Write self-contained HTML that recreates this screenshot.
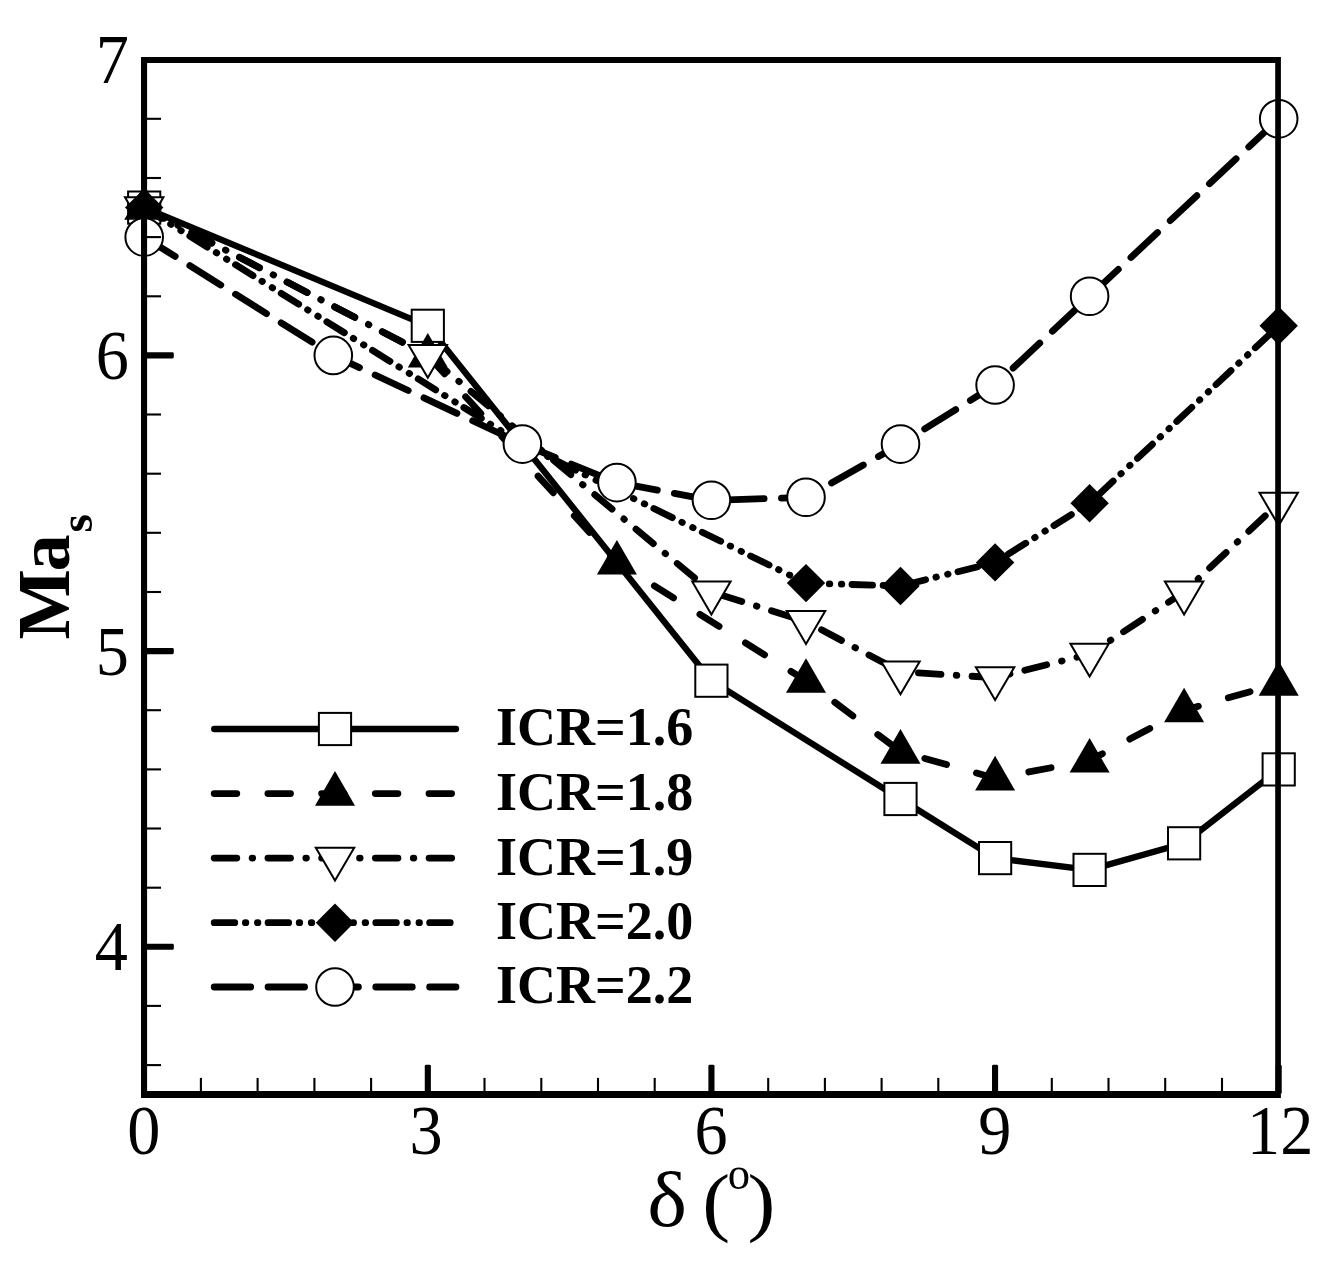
<!DOCTYPE html>
<html lang="en"><head><meta charset="utf-8"><title>Ma_s vs delta</title>
<style>html,body{margin:0;padding:0;background:#fff}svg{display:block}</style></head>
<body>
<svg width="1344" height="1268" viewBox="0 0 1344 1268">
<rect width="1344" height="1268" fill="#fff"/>
<polyline points="144.2,207.6 427.8,325.8 711.4,680.7 900.5,799.0 995.1,858.1 1089.6,869.9 1184.1,843.3 1278.7,769.4" fill="none" stroke="#000" stroke-width="6.3" stroke-linecap="round" stroke-linejoin="round"/>
<rect x="128.1" y="191.5" width="32.2" height="32.2" fill="#fff" stroke="#000" stroke-width="2.0"/>
<rect x="411.7" y="309.7" width="32.2" height="32.2" fill="#fff" stroke="#000" stroke-width="2.0"/>
<rect x="695.3" y="664.6" width="32.2" height="32.2" fill="#fff" stroke="#000" stroke-width="2.0"/>
<rect x="884.4" y="782.9" width="32.2" height="32.2" fill="#fff" stroke="#000" stroke-width="2.0"/>
<rect x="979.0" y="842.0" width="32.2" height="32.2" fill="#fff" stroke="#000" stroke-width="2.0"/>
<rect x="1073.5" y="853.8" width="32.2" height="32.2" fill="#fff" stroke="#000" stroke-width="2.0"/>
<rect x="1168.0" y="827.2" width="32.2" height="32.2" fill="#fff" stroke="#000" stroke-width="2.0"/>
<rect x="1262.6" y="753.3" width="32.2" height="32.2" fill="#fff" stroke="#000" stroke-width="2.0"/>
<polyline points="144.2,207.6 427.8,355.4 616.9,562.4 806.0,680.7 900.5,751.6 995.1,778.3 1089.6,760.5 1184.1,710.2 1278.7,683.6" fill="none" stroke="#000" stroke-width="6.8" stroke-linecap="round" stroke-linejoin="round" stroke-dasharray="22.6 31.1"/>
<polygon points="144.2,185.1 164.2,219.7 124.2,219.7" fill="#000"/>
<polygon points="427.8,332.9 447.8,367.5 407.8,367.5" fill="#000"/>
<polygon points="616.9,539.9 636.9,574.5 596.9,574.5" fill="#000"/>
<polygon points="806.0,658.2 826.0,692.8 786.0,692.8" fill="#000"/>
<polygon points="900.5,729.1 920.5,763.7 880.5,763.7" fill="#000"/>
<polygon points="995.1,755.8 1015.1,790.4 975.1,790.4" fill="#000"/>
<polygon points="1089.6,738.0 1109.6,772.6 1069.6,772.6" fill="#000"/>
<polygon points="1184.1,687.7 1204.1,722.3 1164.1,722.3" fill="#000"/>
<polygon points="1278.7,661.1 1298.7,695.7 1258.7,695.7" fill="#000"/>
<polyline points="144.2,207.6 427.8,355.4 711.4,592.0 806.0,621.5 900.5,671.8 995.1,677.7 1089.6,654.1 1184.1,592.0 1278.7,503.2" fill="none" stroke="#000" stroke-width="6.8" stroke-linecap="round" stroke-linejoin="round" stroke-dasharray="22.6 15.3 0.6 15.22"/>
<polygon points="144.2,230.0 163.4,197.2 125.0,197.2" fill="#fff" stroke="#000" stroke-width="2.0"/>
<polygon points="427.8,377.8 447.0,345.0 408.6,345.0" fill="#fff" stroke="#000" stroke-width="2.0"/>
<polygon points="711.4,614.4 730.6,581.6 692.2,581.6" fill="#fff" stroke="#000" stroke-width="2.0"/>
<polygon points="806.0,643.9 825.2,611.1 786.8,611.1" fill="#fff" stroke="#000" stroke-width="2.0"/>
<polygon points="900.5,694.2 919.7,661.4 881.3,661.4" fill="#fff" stroke="#000" stroke-width="2.0"/>
<polygon points="995.1,700.1 1014.3,667.3 975.9,667.3" fill="#fff" stroke="#000" stroke-width="2.0"/>
<polygon points="1089.6,676.5 1108.8,643.7 1070.4,643.7" fill="#fff" stroke="#000" stroke-width="2.0"/>
<polygon points="1184.1,614.4 1203.3,581.6 1164.9,581.6" fill="#fff" stroke="#000" stroke-width="2.0"/>
<polygon points="1278.7,525.6 1297.9,492.8 1259.5,492.8" fill="#fff" stroke="#000" stroke-width="2.0"/>
<polyline points="144.2,207.6 522.4,444.1 806.0,583.1 900.5,586.0 995.1,562.4 1089.6,503.2 1278.7,325.8" fill="none" stroke="#000" stroke-width="6.8" stroke-linecap="round" stroke-linejoin="round" stroke-dasharray="20.6 10.55 0.5 11.55 0.5 10.16"/>
<polygon points="125.0,207.6 144.2,188.4 163.4,207.6 144.2,226.8" fill="#000"/>
<polygon points="503.2,444.1 522.4,424.9 541.6,444.1 522.4,463.3" fill="#000"/>
<polygon points="786.8,583.1 806.0,563.9 825.2,583.1 806.0,602.3" fill="#000"/>
<polygon points="881.3,586.0 900.5,566.8 919.7,586.0 900.5,605.2" fill="#000"/>
<polygon points="975.9,562.4 995.1,543.2 1014.3,562.4 995.1,581.6" fill="#000"/>
<polygon points="1070.4,503.2 1089.6,484.0 1108.8,503.2 1089.6,522.4" fill="#000"/>
<polygon points="1259.5,325.8 1278.7,306.6 1297.9,325.8 1278.7,345.0" fill="#000"/>
<polyline points="144.2,237.1 333.3,355.4 522.4,444.1 616.9,482.6 711.4,500.3 806.0,497.3 900.5,444.1 995.1,385.0 1089.6,296.3 1278.7,118.8" fill="none" stroke="#000" stroke-width="6.8" stroke-linecap="round" stroke-linejoin="round" stroke-dasharray="36.5 17.36"/>
<circle cx="144.2" cy="237.1" r="18.8" fill="#fff" stroke="#000" stroke-width="2.0"/>
<circle cx="333.3" cy="355.4" r="18.8" fill="#fff" stroke="#000" stroke-width="2.0"/>
<circle cx="522.4" cy="444.1" r="18.8" fill="#fff" stroke="#000" stroke-width="2.0"/>
<circle cx="616.9" cy="482.6" r="18.8" fill="#fff" stroke="#000" stroke-width="2.0"/>
<circle cx="711.4" cy="500.3" r="18.8" fill="#fff" stroke="#000" stroke-width="2.0"/>
<circle cx="806.0" cy="497.3" r="18.8" fill="#fff" stroke="#000" stroke-width="2.0"/>
<circle cx="900.5" cy="444.1" r="18.8" fill="#fff" stroke="#000" stroke-width="2.0"/>
<circle cx="995.1" cy="385.0" r="18.8" fill="#fff" stroke="#000" stroke-width="2.0"/>
<circle cx="1089.6" cy="296.3" r="18.8" fill="#fff" stroke="#000" stroke-width="2.0"/>
<circle cx="1278.7" cy="118.8" r="18.8" fill="#fff" stroke="#000" stroke-width="2.0"/>
<g stroke="#000" fill="#000"><line x1="144" y1="1065.1" x2="161" y2="1065.1" stroke-width="2.1"/><line x1="144" y1="1005.9" x2="161" y2="1005.9" stroke-width="2.1"/><rect x="144" y="943.75" width="29.8" height="6.1" rx="1.4" stroke="none"/><line x1="144" y1="887.7" x2="161" y2="887.7" stroke-width="2.1"/><line x1="144" y1="828.5" x2="161" y2="828.5" stroke-width="2.1"/><line x1="144" y1="769.4" x2="161" y2="769.4" stroke-width="2.1"/><line x1="144" y1="710.2" x2="161" y2="710.2" stroke-width="2.1"/><rect x="144" y="648.05" width="29.8" height="6.1" rx="1.4" stroke="none"/><line x1="144" y1="592.0" x2="161" y2="592.0" stroke-width="2.1"/><line x1="144" y1="532.8" x2="161" y2="532.8" stroke-width="2.1"/><line x1="144" y1="473.7" x2="161" y2="473.7" stroke-width="2.1"/><line x1="144" y1="414.5" x2="161" y2="414.5" stroke-width="2.1"/><rect x="144" y="352.35" width="29.8" height="6.1" rx="1.4" stroke="none"/><line x1="144" y1="296.3" x2="161" y2="296.3" stroke-width="2.1"/><line x1="144" y1="237.1" x2="161" y2="237.1" stroke-width="2.1"/><line x1="144" y1="178.0" x2="161" y2="178.0" stroke-width="2.1"/><line x1="144" y1="118.8" x2="161" y2="118.8" stroke-width="2.1"/><line x1="200.9" y1="1094" x2="200.9" y2="1077.9" stroke-width="2.1"/><line x1="257.6" y1="1094" x2="257.6" y2="1077.9" stroke-width="2.1"/><line x1="314.4" y1="1094" x2="314.4" y2="1077.9" stroke-width="2.1"/><line x1="371.1" y1="1094" x2="371.1" y2="1077.9" stroke-width="2.1"/><rect x="424.77" y="1064.8" width="6.1" height="29.2" rx="1.4" stroke="none"/><line x1="484.5" y1="1094" x2="484.5" y2="1077.9" stroke-width="2.1"/><line x1="541.3" y1="1094" x2="541.3" y2="1077.9" stroke-width="2.1"/><line x1="598.0" y1="1094" x2="598.0" y2="1077.9" stroke-width="2.1"/><line x1="654.7" y1="1094" x2="654.7" y2="1077.9" stroke-width="2.1"/><rect x="708.39" y="1064.8" width="6.1" height="29.2" rx="1.4" stroke="none"/><line x1="768.2" y1="1094" x2="768.2" y2="1077.9" stroke-width="2.1"/><line x1="824.9" y1="1094" x2="824.9" y2="1077.9" stroke-width="2.1"/><line x1="881.6" y1="1094" x2="881.6" y2="1077.9" stroke-width="2.1"/><line x1="938.3" y1="1094" x2="938.3" y2="1077.9" stroke-width="2.1"/><rect x="992.01" y="1064.8" width="6.1" height="29.2" rx="1.4" stroke="none"/><line x1="1051.8" y1="1094" x2="1051.8" y2="1077.9" stroke-width="2.1"/><line x1="1108.5" y1="1094" x2="1108.5" y2="1077.9" stroke-width="2.1"/><line x1="1165.2" y1="1094" x2="1165.2" y2="1077.9" stroke-width="2.1"/><line x1="1222.0" y1="1094" x2="1222.0" y2="1077.9" stroke-width="2.1"/><rect x="1275.63" y="1064.8" width="6.1" height="29.2" rx="1.4" stroke="none"/></g>
<path fill="#000" fill-rule="evenodd" d="M141 57.1H1280.9V1097.9H141Z M147.1 63.1V1091H1275.2V63.1Z"/>
<g font-family="'Liberation Serif', serif" fill="#000">
<text transform="translate(128.0,970.4) scale(0.94,1)" text-anchor="end" font-size="70.5">4</text>
<text transform="translate(129.0,674.7) scale(0.94,1)" text-anchor="end" font-size="70.5">5</text>
<text transform="translate(129.0,379.0) scale(0.94,1)" text-anchor="end" font-size="70.5">6</text>
<text transform="translate(129.0,83.3) scale(0.94,1)" text-anchor="end" font-size="70.5">7</text>
<text transform="translate(143.9,1154.0) scale(0.94,1)" text-anchor="middle" font-size="70.5">0</text>
<text transform="translate(426.1,1154.0) scale(0.94,1)" text-anchor="middle" font-size="70.5">3</text>
<text transform="translate(711.1,1154.0) scale(0.94,1)" text-anchor="middle" font-size="70.5">6</text>
<text transform="translate(994.8,1154.0) scale(0.94,1)" text-anchor="middle" font-size="70.5">9</text>
<text transform="translate(1280.2,1154.0) scale(0.94,1)" text-anchor="middle" font-size="70.5">12</text>
<text transform="translate(667.2,1225.9) scale(1.08,1)" text-anchor="middle" font-size="78">δ</text>
<text transform="translate(716.2,1226.5) scale(1.1,1)" text-anchor="middle" font-size="76">(</text>
<text transform="translate(739.0,1188.8) scale(0.97,1)" text-anchor="middle" font-size="46">o</text>
<text transform="translate(761.4,1226.5) scale(1.1,1)" text-anchor="middle" font-size="76">)</text>
</g>
<text transform="translate(69,639.6) rotate(-90)" font-family="'Liberation Serif', serif" font-weight="bold" font-size="74.5" fill="#000">M<tspan dx="-2.2">a</tspan><tspan font-size="47" dx="1.8" dy="22.8">s</tspan></text>
<line x1="214.2" y1="729" x2="456" y2="729" stroke="#000" stroke-width="6.3" stroke-linecap="round"/>
<rect x="318.9" y="712.9" width="32.2" height="32.2" fill="#fff" stroke="#000" stroke-width="2.0"/>
<text x="496" y="745.4" font-family="'Liberation Serif', serif" font-weight="bold" font-size="54" fill="#000">ICR=1.6</text>
<line x1="214.2" y1="793.6" x2="456" y2="793.6" stroke="#000" stroke-width="6.8" stroke-linecap="round" stroke-dasharray="22.6 31.1"/>
<polygon points="335.0,771.1 355.0,805.7 315.0,805.7" fill="#000"/>
<text x="496" y="810.0" font-family="'Liberation Serif', serif" font-weight="bold" font-size="54" fill="#000">ICR=1.8</text>
<line x1="214.2" y1="858.1" x2="456" y2="858.1" stroke="#000" stroke-width="6.8" stroke-linecap="round" stroke-dasharray="22.6 15.3 0.6 15.22"/>
<polygon points="335.0,880.5 354.2,847.7 315.8,847.7" fill="#fff" stroke="#000" stroke-width="2.0"/>
<text x="496" y="874.5" font-family="'Liberation Serif', serif" font-weight="bold" font-size="54" fill="#000">ICR=1.9</text>
<line x1="214.2" y1="922.7" x2="456" y2="922.7" stroke="#000" stroke-width="6.8" stroke-linecap="round" stroke-dasharray="20.6 10.55 0.5 11.55 0.5 10.16"/>
<polygon points="315.8,922.7 335.0,903.5 354.2,922.7 335.0,941.9" fill="#000"/>
<text x="496" y="939.1" font-family="'Liberation Serif', serif" font-weight="bold" font-size="54" fill="#000">ICR=2.0</text>
<line x1="214.2" y1="987.0" x2="456" y2="987.0" stroke="#000" stroke-width="6.8" stroke-linecap="round" stroke-dasharray="36.5 17.36"/>
<circle cx="335.0" cy="987.0" r="18.8" fill="#fff" stroke="#000" stroke-width="2.0"/>
<text x="496" y="1003.4" font-family="'Liberation Serif', serif" font-weight="bold" font-size="54" fill="#000">ICR=2.2</text>
</svg>
</body></html>
